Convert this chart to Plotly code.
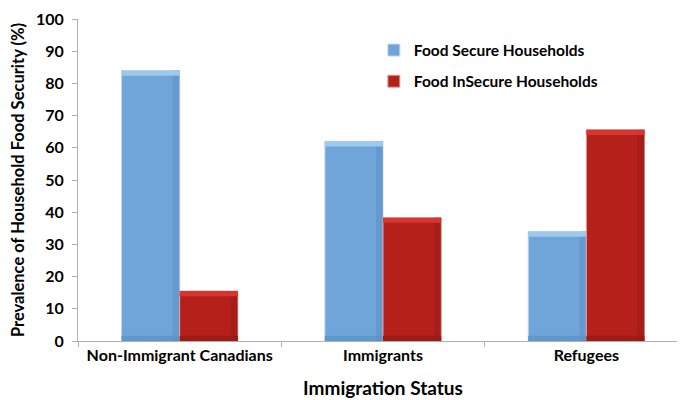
import plotly.graph_objects as go

categories = ["Non-Immigrant Canadians", "Immigrants", "Refugees"]
secure = [84, 62, 34]
insecure = [15.5, 38.3, 65.6]
series_names = ["Food Secure Households", "Food InSecure Households"]
y_ticks = list(range(0, 101, 10))

W = 0.286
strip = 1.6
styles = [
    dict(main="#6fa5d8", top="#9cc9ec", bottom="#5f98cf", side="#5a8fc6", line="#c9d9ea", offset=-W, group="a"),
    dict(main="#b5211a", top="#d83530", bottom="#a01b14", side="#9a1a14", line="#d9a5a2", offset=0.0, group="b"),
]

fig = go.Figure()
for name, vals, st in zip(series_names, [secure, insecure], styles):
    fig.add_trace(go.Bar(
        x=categories, y=vals, name=name, offset=st["offset"], width=W, legendgroup=st["group"],
        marker=dict(color=st["main"], line=dict(color=st["line"], width=1)),
    ))
    fig.add_trace(go.Bar(
        x=categories, y=[strip] * 3, base=[0] * 3, offset=st["offset"], width=W, legendgroup=st["group"],
        marker=dict(color=st["bottom"], line=dict(width=0)), showlegend=False, hoverinfo="skip",
    ))
    fig.add_trace(go.Bar(
        x=categories, y=vals, offset=st["offset"] + W * 0.88, width=W * 0.12, legendgroup=st["group"],
        marker=dict(color=st["side"], line=dict(width=0)), opacity=0.5, showlegend=False, hoverinfo="skip",
    ))
    fig.add_trace(go.Bar(
        x=categories, y=[strip] * 3, base=[v - strip for v in vals], offset=st["offset"], width=W,
        legendgroup=st["group"],
        marker=dict(color=st["top"], line=dict(width=0)), showlegend=False, hoverinfo="skip",
    ))

font = "Lato, 'Open Sans', sans-serif"
fig.update_layout(
    width=685, height=400,
    margin=dict(l=70, r=5, t=11, b=67),
    barmode="overlay",
    plot_bgcolor="white", paper_bgcolor="white",
    font=dict(family=font, color="black", size=16),
    showlegend=True,
    legend=dict(x=0.485, y=0.955, xanchor="left", yanchor="top", bgcolor="rgba(0,0,0,0)",
                font=dict(size=15.5, family=font, weight="bold"), tracegroupgap=8, itemwidth=30),
    xaxis=dict(
        title=dict(text="<b>Immigration Status</b>", font=dict(size=19), standoff=18),
        tickfont=dict(size=16, weight="bold"),
        showline=True, linecolor="#b0b0b0", linewidth=1,
        ticks="outside", tickson="boundaries", ticklen=5, tickcolor="#b0b0b0",
        showgrid=False, range=[-0.5, 2.5], automargin=False,
    ),
    yaxis=dict(
        title=dict(text="<b>Prevalence of Household Food Security (%)</b>", font=dict(size=16.5), standoff=8),
        tickfont=dict(size=16, weight="bold"),
        range=[0, 100], tickvals=y_ticks, ticklabelstandoff=5,
        showline=True, linecolor="#b0b0b0", linewidth=1,
        ticks="outside", ticklen=5, tickcolor="#b0b0b0",
        showgrid=False, zeroline=False, automargin=False,
    ),
)

fig.write_html("out.html")
